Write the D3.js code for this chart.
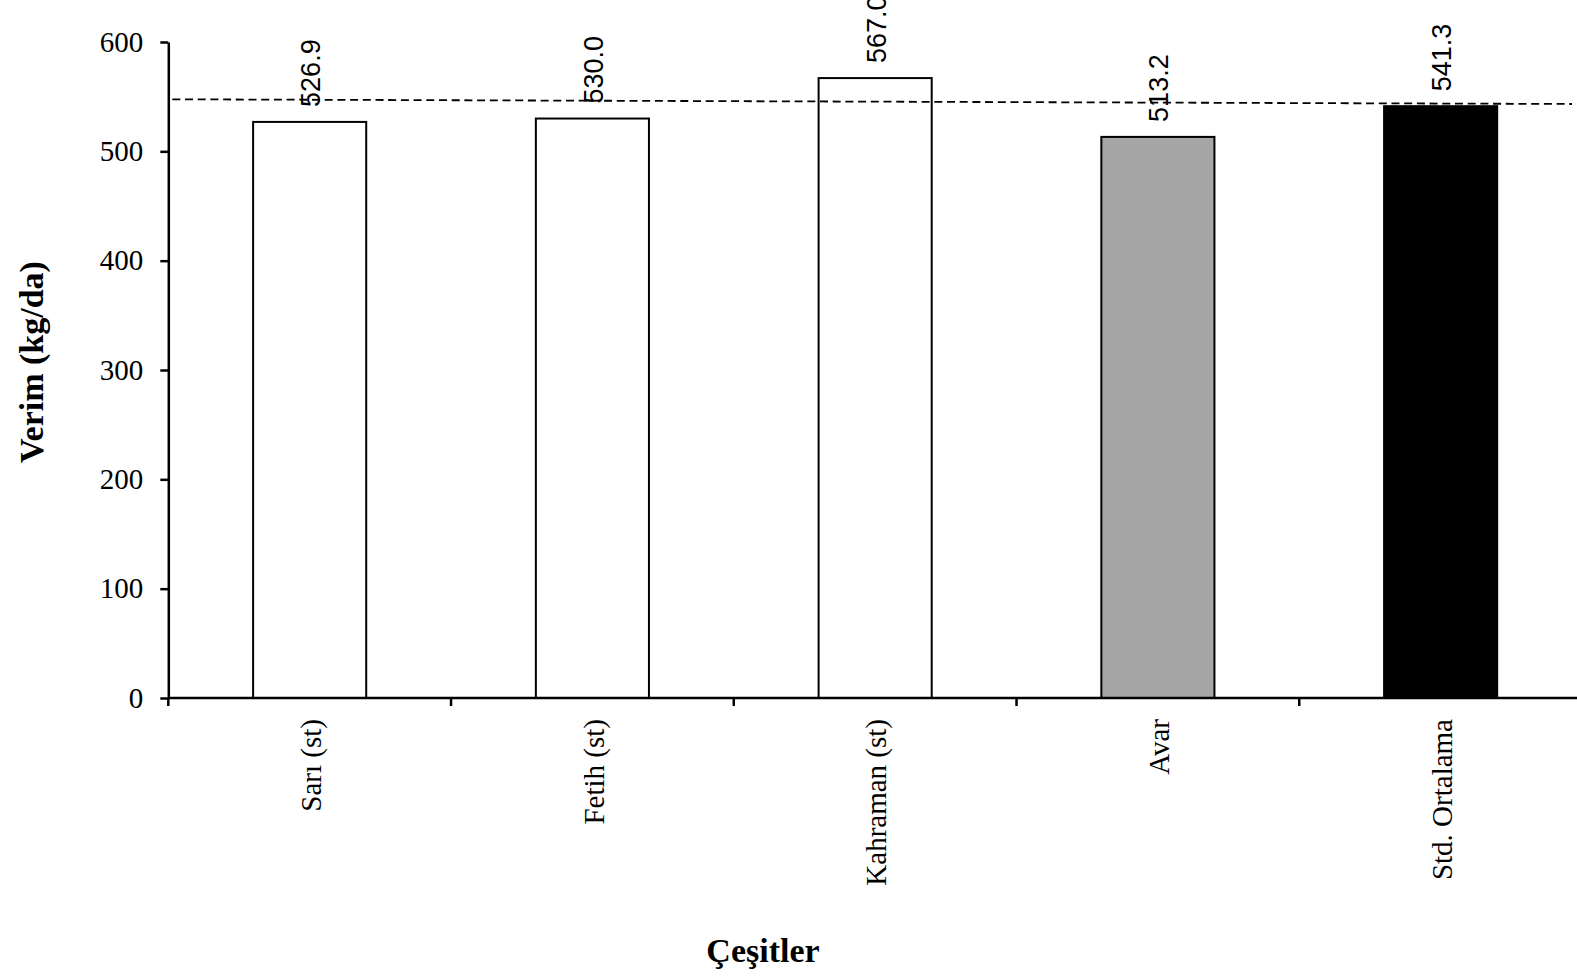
<!DOCTYPE html>
<html>
<head>
<meta charset="utf-8">
<script src="https://cdn.jsdelivr.net/npm/d3@7.9.0/dist/d3.min.js"></script>
<style>
  body { margin: 0; background: #fff; }
  svg { display: block; font-family: "Liberation Serif", "Times New Roman", serif; }
</style>
</head>
<body>
<div id="chart"></div>
<script>
const categories = ["Sarı (st)", "Fetih (st)", "Kahraman (st)", "Avar", "Std. Ortalama"];
const yields = [526.9, 530.0, 567.0, 513.2, 541.3];
const valueLabels = ["526.9", "530.0", "567.0", "513.2", "541.3"];
const yTicks = [0, 100, 200, 300, 400, 500, 600];
// dashed reference line, value at left end and at right end
const refLine = [547.6, 543.3];

const width = 1577;
const height = 977;

const svg = d3.select('#chart')
  .append('svg')
  .attr('width', width)
  .attr('height', height);

const x = d3.scaleBand()
  .domain(categories)
  .range([168.3, 1582])
  .padding(0);

const y = d3.scaleLinear()
  .domain([0, 600])
  .range([698, 42]);

const fill = d3.scaleOrdinal()
  .domain(categories)
  .range(['#ffffff', '#ffffff', '#ffffff', '#a6a6a6', '#000000']);

const bw = x.bandwidth() * 0.4;

// bars
svg.append('g')
  .selectAll('rect')
  .data(categories)
  .join('rect')
  .attr('x', d => x(d) + (x.bandwidth() - bw) / 2)
  .attr('y', (d, i) => y(yields[i]))
  .attr('width', bw)
  .attr('height', (d, i) => y(0) - y(yields[i]))
  .attr('fill', d => fill(d))
  .attr('stroke', '#000')
  .attr('stroke-width', 2);

// value labels
svg.append('g')
  .selectAll('text')
  .data(categories)
  .join('text')
  .attr('transform', (d, i) => `translate(${x(d) + x.bandwidth() / 2 + 1},${y(yields[i]) - 15}) rotate(-90)`)
  .attr('dy', '0.35em')
  .attr('text-anchor', 'start')
  .attr('font-family', '"Liberation Sans", Arial, sans-serif')
  .attr('font-size', 27)
  .text((d, i) => valueLabels[i]);

// dashed line
const [rx0, rx1] = x.range();
svg.append('line')
  .attr('x1', rx0 + 4)
  .attr('x2', rx1 - 10)
  .attr('y1', y(refLine[0]))
  .attr('y2', y(refLine[1]))
  .attr('stroke', '#000')
  .attr('stroke-width', 1.8)
  .attr('stroke-dasharray', '8,4.7');

// y axis
const yAxis = d3.axisLeft(y)
  .tickValues(yTicks)
  .tickSize(8)
  .tickSizeOuter(0)
  .tickPadding(17);

const gy = svg.append('g')
  .attr('transform', `translate(${rx0},0)`)
  .call(yAxis);
gy.select('.domain').attr('stroke-width', 2.5);
gy.selectAll('.tick line').attr('stroke-width', 2.5);
gy.selectAll('.tick text')
  .attr('font-size', 29)
  .attr('font-family', '"Liberation Serif", "Times New Roman", serif')
  .attr('fill', '#000');

// x axis line and boundary ticks
const gx = svg.append('g').attr('transform', `translate(0,${y(0)})`);
gx.append('line')
  .attr('x1', rx0)
  .attr('x2', rx1)
  .attr('stroke', '#000')
  .attr('stroke-width', 2.5);
gx.selectAll('.xtick')
  .data(categories.map(c => x(c)).concat([rx1]))
  .join('line')
  .attr('class', 'xtick')
  .attr('x1', d => d)
  .attr('x2', d => d)
  .attr('y1', 0)
  .attr('y2', 8)
  .attr('stroke', '#000')
  .attr('stroke-width', 2.5);

gx.selectAll('.xlabel')
  .data(categories)
  .join('text')
  .attr('class', 'xlabel')
  .attr('transform', d => `translate(${x(d) + x.bandwidth() / 2 + 1},21) rotate(-90)`)
  .attr('dy', '0.35em')
  .attr('text-anchor', 'end')
  .attr('font-size', 29)
  .text(d => d);

// axis titles
svg.append('text')
  .attr('transform', 'translate(43,362) rotate(-90)')
  .attr('text-anchor', 'middle')
  .attr('font-size', 34)
  .attr('font-weight', 'bold')
  .text('Verim (kg/da)');

svg.append('text')
  .attr('x', 763)
  .attr('y', 962)
  .attr('text-anchor', 'middle')
  .attr('font-size', 34)
  .attr('font-weight', 'bold')
  .text('Çeşitler');
</script>
</body>
</html>
